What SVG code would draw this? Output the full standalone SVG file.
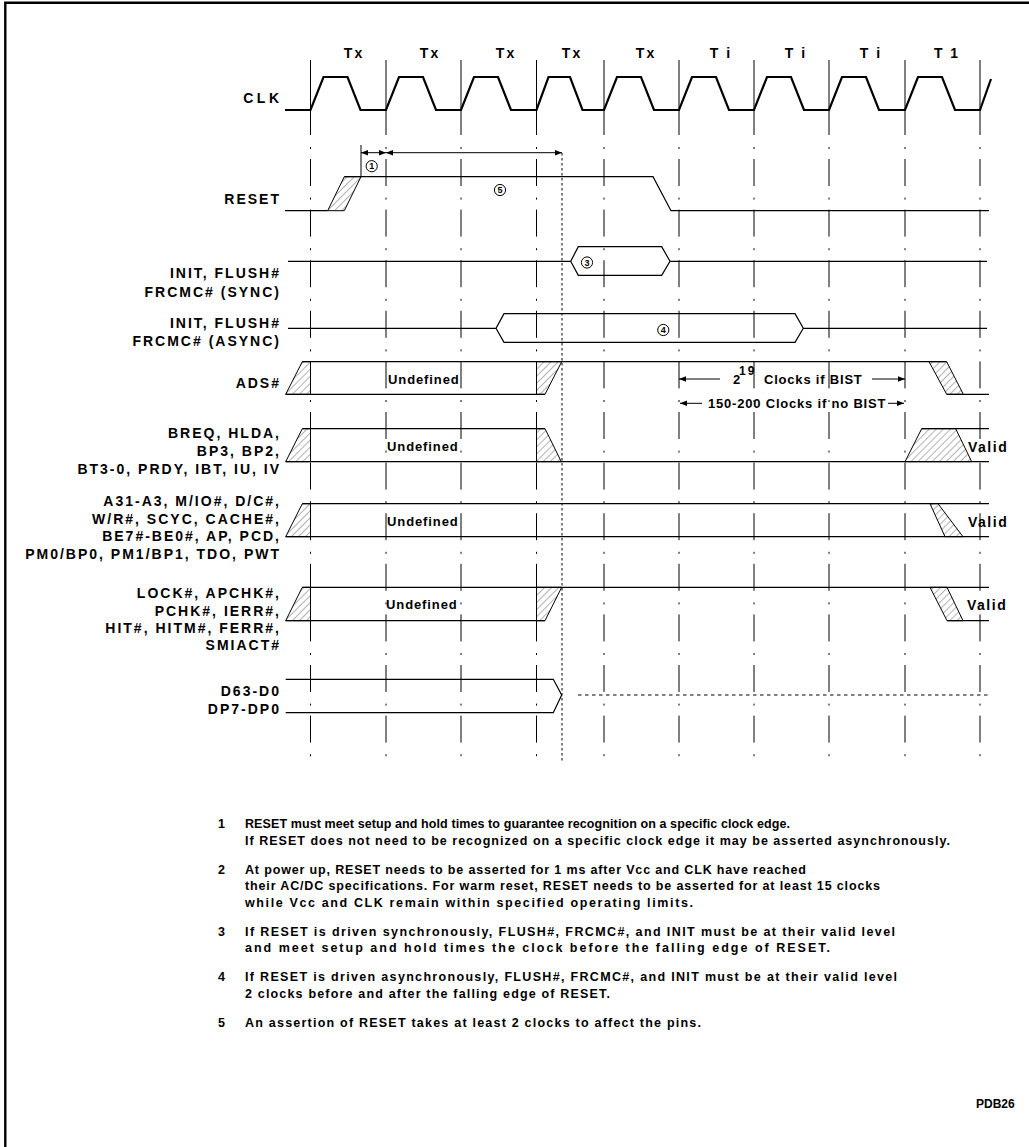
<svg xmlns="http://www.w3.org/2000/svg" width="1029" height="1147" viewBox="0 0 1029 1147">
<style>
.sig{fill:none;stroke:#000;stroke-width:1.2}
.clk{fill:none;stroke:#000;stroke-width:2.2}
.gs{stroke:#000;stroke-width:1}
.gd{stroke:#000;stroke-width:1;stroke-dasharray:2 10 27 11.6}
.hat{fill:url(#hatch);stroke:#000;stroke-width:1}
.lbl{font-family:"Liberation Sans",Arial,sans-serif;font-weight:bold;font-size:14px;letter-spacing:2px;text-anchor:end}
.tc{font-family:"Liberation Sans",Arial,sans-serif;font-weight:bold;font-size:14px;letter-spacing:2px;text-anchor:middle}
.und{font-family:"Liberation Sans",Arial,sans-serif;font-weight:bold;font-size:13px;letter-spacing:0.9px}
.val{font-family:"Liberation Sans",Arial,sans-serif;font-weight:bold;font-size:14px;letter-spacing:1.5px}
.ann{font-family:"Liberation Sans",Arial,sans-serif;font-weight:bold;font-size:13px;letter-spacing:0.8px}
.cn{font-family:"Liberation Sans",Arial,sans-serif;font-weight:bold;font-size:9px;text-anchor:middle}
.cc{fill:#fff;stroke:#000;stroke-width:1}
.note{font-family:"Liberation Sans",Arial,sans-serif;font-weight:bold;font-size:12.5px}
.arr{fill:none;stroke:#000;stroke-width:1;marker-start:url(#ah);marker-end:url(#ah)}
</style>
<defs>
<pattern id="hatch" width="5" height="5" patternUnits="userSpaceOnUse" patternTransform="rotate(45)">
<line x1="0" y1="0" x2="0" y2="5" stroke="#666" stroke-width="1"/>
</pattern>
<marker id="ah" viewBox="0 0 10 10" refX="10" refY="5" markerWidth="7" markerHeight="7" orient="auto-start-reverse" markerUnits="userSpaceOnUse">
<path d="M0,1 L10,5 L0,9 z" fill="#000"/>
</marker>
</defs>
<rect width="1029" height="1147" fill="#fff"/>
<path d="M5.3,1147 V2.8 H1029" fill="none" stroke="#000" stroke-width="2.4"/>

<g id="grid">
<line class="gs" x1="310.5" y1="60" x2="310.5" y2="135"/><line class="gd" x1="310.5" y1="147" x2="310.5" y2="758"/>
<line class="gs" x1="386" y1="60" x2="386" y2="135"/><line class="gd" x1="386" y1="147" x2="386" y2="758"/>
<line class="gs" x1="461" y1="60" x2="461" y2="135"/><line class="gd" x1="461" y1="147" x2="461" y2="758"/>
<line class="gs" x1="536.5" y1="60" x2="536.5" y2="135"/><line class="gd" x1="536.5" y1="147" x2="536.5" y2="758"/>
<line class="gs" x1="604" y1="60" x2="604" y2="135"/><line class="gd" x1="604" y1="147" x2="604" y2="758"/>
<line class="gs" x1="679" y1="60" x2="679" y2="135"/><line class="gd" x1="679" y1="147" x2="679" y2="758"/>
<line class="gs" x1="754" y1="60" x2="754" y2="135"/><line class="gd" x1="754" y1="147" x2="754" y2="758"/>
<line class="gs" x1="829" y1="60" x2="829" y2="135"/><line class="gd" x1="829" y1="147" x2="829" y2="758"/>
<line class="gs" x1="905" y1="60" x2="905" y2="135"/><line class="gd" x1="905" y1="147" x2="905" y2="758"/>
<line class="gs" x1="980" y1="60" x2="980" y2="135"/><line class="gd" x1="980" y1="147" x2="980" y2="758"/>
<line x1="562" y1="153" x2="562" y2="762" stroke="#000" stroke-width="1" stroke-dasharray="2.5 2.5"/>
</g>

<g id="cycle-labels">
<text class="tc" x="354" y="58">Tx</text>
<text class="tc" x="430" y="58">Tx</text>
<text class="tc" x="506" y="58">Tx</text>
<text class="tc" x="572" y="58">Tx</text>
<text class="tc" x="646" y="58">Tx</text>
<text class="tc" x="721" y="58">T i</text>
<text class="tc" x="796" y="58">T i</text>
<text class="tc" x="871" y="58">T i</text>
<text class="tc" x="947" y="58">T 1</text>
</g>

<g id="clk">
<text class="lbl" x="282.5" y="103" style="letter-spacing:3.5px">CLK</text>
<path class="clk" d="M285,110 H310.5 L323.5,77 H347.5 L360.5,110 H386 L399,77 H423 L436,110 H461 L474,77 H498 L511,110 H536.5 L548.5,77 H570 L582.5,110 H604 L617,77 H641 L654,110 H679 L692,77 H716 L729,110 H754 L767,77 H791 L804,110 H829 L842,77 H866 L879,110 H905 L918,77 H942 L955,110 H980 L991,79"/>
</g>

<g id="reset">
<text class="lbl" x="281" y="204">RESET</text>
<polygon class="hat" points="327.7,210.7 344.3,176.7 361,176.7 344.3,210.7"/>
<path class="sig" d="M285,210.7 H327.7 M344.3,176.7 H653 L671,210.7 H989"/>
<line x1="361" y1="145" x2="361" y2="177" stroke="#000" stroke-width="1"/>
</g>

<g id="connectors">
<line class="arr" x1="361" y1="152.7" x2="386" y2="152.7"/>
<line class="arr" x1="386" y1="152.7" x2="562" y2="152.7"/>
<line x1="679" y1="379" x2="720" y2="379" stroke="#000" stroke-width="1" marker-start="url(#ah)"/>
<line x1="872" y1="379" x2="905" y2="379" stroke="#000" stroke-width="1" marker-end="url(#ah)"/>
<line x1="680" y1="403.3" x2="702" y2="403.3" stroke="#000" stroke-width="1" marker-start="url(#ah)"/>
<line x1="888" y1="403.3" x2="904" y2="403.3" stroke="#000" stroke-width="1" marker-end="url(#ah)"/>
</g>

<g id="callout-1"><circle class="cc" cx="371.7" cy="166.2" r="5.6"/><text class="cn" x="371.7" y="169.4">1</text></g>
<g id="callout-5"><circle class="cc" cx="500" cy="190" r="5.6"/><text class="cn" x="500" y="193.2">5</text></g>

<g id="init-sync">
<text class="lbl" x="281" y="278">INIT, FLUSH#</text>
<text class="lbl" x="281" y="297">FRCMC# (SYNC)</text>
<path class="sig" d="M288,261.3 H570.7 L578.3,246.7 H661.7 L670,261.3 L661.7,275.3 H578.3 L570.7,261.3 M670,261.3 H987"/>
<circle class="cc" cx="587" cy="262.5" r="5.6"/><text class="cn" x="587" y="265.7">3</text>
</g>

<g id="init-async">
<text class="lbl" x="281" y="328">INIT, FLUSH#</text>
<text class="lbl" x="281" y="346">FRCMC# (ASYNC)</text>
<path class="sig" d="M288,328.3 H496 L504,313.7 H795 L803.3,328.3 L795,342.3 H504 L496,328.3 M803.3,328.3 H987"/>
<circle class="cc" cx="663.3" cy="330" r="5.6"/><text class="cn" x="663.3" y="333.2">4</text>
</g>

<g id="ads">
<text class="lbl" x="281" y="388">ADS#</text>
<polygon class="hat" points="285.7,394.3 302.3,361.7 310.5,361.7 310.5,394.3"/>
<polygon class="hat" points="536.5,361.7 561.7,361.7 545,394.3 536.5,394.3"/>
<polygon class="hat" points="929,361.7 946.7,361.7 963.3,394.3 946.7,394.3"/>
<path class="sig" d="M302.3,361.7 H946.7 M285.7,394.3 H545 M946.7,394.3 H989"/>
<text class="und" x="388" y="384">Undefined</text>
<text class="ann" x="733" y="384">2</text>
<text class="ann" x="739" y="375" style="font-size:12px;letter-spacing:2px">19</text>
<text class="ann" x="764" y="384">Clocks if BIST</text>
<text class="ann" x="708" y="408">150-200 Clocks if no BIST</text>
</g>

<g id="breq">
<text class="lbl" x="281" y="438">BREQ, HLDA,</text>
<text class="lbl" x="281" y="456">BP3, BP2,</text>
<text class="lbl" x="281" y="474">BT3-0, PRDY, IBT, IU, IV</text>
<polygon class="hat" points="285.7,461.7 302.3,428.7 310.5,428.7 310.5,461.7"/>
<polygon class="hat" points="536.5,428.7 545,428.7 561.3,461.7 536.5,461.7"/>
<polygon class="hat" points="905,461.7 921.7,428.7 955.7,428.7 971.7,461.7"/>
<path class="sig" d="M302.3,428.7 H545 M285.7,461.7 H989 M921.7,428.7 H989"/>
<text class="und" x="387" y="451">Undefined</text>
<text class="val" x="968" y="452">Valid</text>
</g>

<g id="addr">
<text class="lbl" x="281" y="506">A31-A3, M/IO#, D/C#,</text>
<text class="lbl" x="281" y="524">W/R#, SCYC, CACHE#,</text>
<text class="lbl" x="281" y="541">BE7#-BE0#, AP, PCD,</text>
<text class="lbl" x="281" y="559">PM0/BP0, PM1/BP1, TDO, PWT</text>
<polygon class="hat" points="285.7,536.7 302.3,503.7 310.5,503.7 310.5,536.7"/>
<polygon class="hat" points="930,503.7 938,503.7 963,536.7 945,536.7"/>
<path class="sig" d="M302.3,503.7 H989 M285.7,536.7 H989"/>
<text class="und" x="387" y="526">Undefined</text>
<text class="val" x="968" y="527">Valid</text>
</g>

<g id="lock">
<text class="lbl" x="281" y="598">LOCK#, APCHK#,</text>
<text class="lbl" x="281" y="616">PCHK#, IERR#,</text>
<text class="lbl" x="281" y="633">HIT#, HITM#, FERR#,</text>
<text class="lbl" x="281" y="650">SMIACT#</text>
<polygon class="hat" points="285.7,620.7 302.3,587.3 310.5,587.3 310.5,620.7"/>
<polygon class="hat" points="536.5,587.3 561.7,587.3 545,620.7 536.5,620.7"/>
<polygon class="hat" points="930,587.3 947,587.3 963,620.7 947,620.7"/>
<path class="sig" d="M302.3,587.3 H989 M285.7,620.7 H545 M947,620.7 H989"/>
<text class="und" x="386" y="609">Undefined</text>
<text class="val" x="967" y="610">Valid</text>
</g>

<g id="data">
<text class="lbl" x="281" y="696">D63-D0</text>
<text class="lbl" x="281" y="714">DP7-DP0</text>
<path class="sig" d="M285.7,679.3 H553.3 L561.7,695 L553.3,712.7 H285.7"/>
<line x1="578" y1="695" x2="989" y2="695" stroke="#000" stroke-width="1" stroke-dasharray="3.5 3.5"/>
</g>

<g id="notes">
<text class="note" x="218" y="828">1</text>
<text class="note" x="245" y="828" textLength="545" lengthAdjust="spacing">RESET must meet setup and hold times to guarantee recognition on a specific clock edge.</text>
<text class="note" x="245" y="845" textLength="705" lengthAdjust="spacing">If RESET does not need to be recognized on a specific clock edge it may be asserted asynchronously.</text>
<text class="note" x="218" y="874">2</text>
<text class="note" x="245" y="874" textLength="561" lengthAdjust="spacing">At power up, RESET needs to be asserted for 1 ms after Vcc and CLK have reached</text>
<text class="note" x="245" y="890" textLength="635" lengthAdjust="spacing">their AC/DC specifications.  For warm reset, RESET needs to be asserted for at least 15 clocks</text>
<text class="note" x="245" y="907" textLength="448" lengthAdjust="spacing">while Vcc and CLK remain within specified operating limits.</text>
<text class="note" x="218" y="936">3</text>
<text class="note" x="245" y="936" textLength="650" lengthAdjust="spacing">If RESET is driven synchronously, FLUSH#, FRCMC#, and INIT must be at their valid level</text>
<text class="note" x="245" y="952" textLength="585" lengthAdjust="spacing">and meet setup and hold times the clock before the falling edge of RESET.</text>
<text class="note" x="218" y="981">4</text>
<text class="note" x="245" y="981" textLength="652" lengthAdjust="spacing">If RESET is driven asynchronously, FLUSH#, FRCMC#, and INIT must be at their valid level</text>
<text class="note" x="245" y="998" textLength="365" lengthAdjust="spacing">2 clocks before and after the falling edge of RESET.</text>
<text class="note" x="218" y="1027">5</text>
<text class="note" x="245" y="1027" textLength="456" lengthAdjust="spacing">An assertion of RESET takes at least 2 clocks to affect the pins.</text>
<text class="note" x="976" y="1108" style="font-size:12px">PDB26</text>
</g>
</svg>
